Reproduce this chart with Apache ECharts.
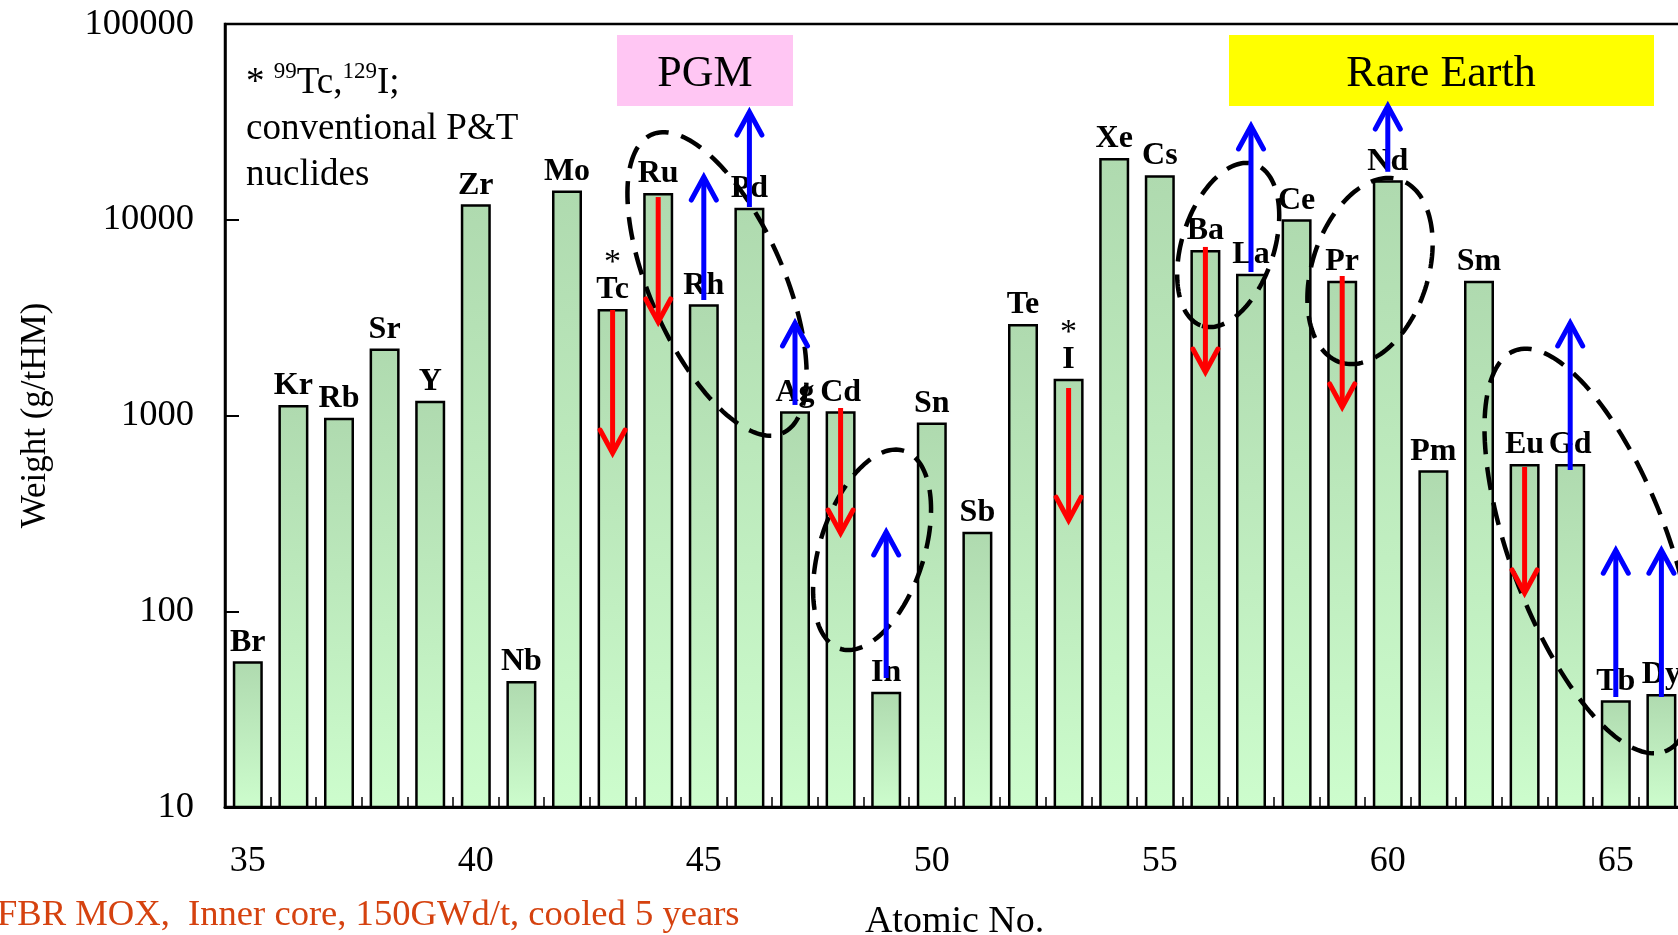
<!DOCTYPE html>
<html>
<head>
<meta charset="utf-8">
<script src="https://cdn.jsdelivr.net/npm/echarts@6.0.0/dist/echarts.min.js"></script>
<style>
  html, body { margin: 0; padding: 0; background: #ffffff; }
  #chart { width: 1678px; height: 935px; }
</style>
</head>
<body>
<div id="chart"></div>
<script>
// Fission-product inventory by element (g per tonne of heavy metal)
const atomicNumbers = ['35', '36', '37', '38', '39', '40', '41', '42', '43', '44', '45',
  '46', '47', '48', '49', '50', '51', '52', '53', '54', '55', '56', '57', '58', '59', '60',
  '61', '62', '63', '64', '65', '66'];
const elements = ['Br', 'Kr', 'Rb', 'Sr', 'Y', 'Zr', 'Nb', 'Mo', 'Tc', 'Ru', 'Rh',
  'Pd', 'Ag', 'Cd', 'In', 'Sn', 'Sb', 'Te', 'I', 'Xe', 'Cs', 'Ba', 'La', 'Ce', 'Pr', 'Nd',
  'Pm', 'Sm', 'Eu', 'Gd', 'Tb', 'Dy'];
const weights = [55.5, 1130, 975, 2200, 1190, 12000, 44, 14100, 3500, 13700, 3700,
  11500, 1050, 1050, 38.8, 920, 255, 2930, 1540, 20700, 16900, 7000, 5300, 10050, 4880, 15900,
  525, 4880, 565, 565, 35.1, 37.8];

// conventional P&T nuclides (marked with *)
const ptNuclides = ['Tc', 'I'];

// transmutation arrows: element, start weight, end weight
const decreaseArrows = [
  ['Tc', 3460, 643], ['Ru', 13060, 3005], ['Cd', 1092, 251], ['I', 1381, 292],
  ['Ba', 7262, 1668], ['Pr', 5165, 1106], ['Eu', 546, 124]
];
const increaseArrows = [
  ['Rh', 3890, 16530], ['Pd', 11620, 35500], ['Ag', 1132, 2970], ['In', 45.6, 254],
  ['La', 5410, 30130], ['Nd', 17580, 38100], ['Gd', 527, 2970], ['Tb', 36.5, 205],
  ['Dy', 36.5, 205]
];

const yTickLabels = ['10', '100', '1000', '10000', '100000'];

// dashed group outlines: centre (atomic no., weight), semi-axes in px, tilt of the long axis
const groupOutlines = [
  { center: 45.29, weight: 4700, major: 163, minor: 67, tilt: 23.6 },
  { center: 48.69, weight: 206, major: 104, minor: 52, tilt: -18 },
  { center: 56.5, weight: 7430, major: 85, minor: 46, tilt: -18 },
  { center: 59.61, weight: 5470, major: 96, minor: 58, tilt: -18 },
  { center: 64.43, weight: 203, major: 214, minor: 79, tilt: 20.5 }
];

const SERIF = "'Liberation Serif', 'Times New Roman', serif";
const firstZ = Number(atomicNumbers[0]);

function arrowData(list) {
  return list.map(([el, from, to]) => [elements.indexOf(el), from, to]);
}

function makeArrowRenderer(color) {
  return function (params, api) {
    const idx = api.value(0);
    const p0 = api.coord([idx, api.value(1)]);
    const p1 = api.coord([idx, api.value(2)]);
    const dir = p1[1] > p0[1] ? 1 : -1;
    const headBack = 23, headHalf = 12.5;
    return {
      type: 'group',
      children: [
        {
          type: 'line',
          shape: { x1: p0[0], y1: p0[1], x2: p1[0], y2: p1[1] },
          style: { stroke: color, lineWidth: 5, lineCap: 'butt' }
        },
        {
          type: 'polyline',
          shape: { points: [
            [p1[0] - headHalf, p1[1] - dir * headBack],
            [p1[0], p1[1]],
            [p1[0] + headHalf, p1[1] - dir * headBack]
          ] },
          style: { stroke: color, fill: null, lineWidth: 5, lineCap: 'round', lineJoin: 'miter' }
        }
      ]
    };
  };
}

function renderOutline(params, api) {
  const o = groupOutlines[params.dataIndex];
  const zi = o.center - firstZ;
  const i0 = Math.floor(zi);
  const base = api.coord([i0, o.weight]);
  const band = api.size([1, 0])[0];
  const cx = base[0] + (zi - i0) * band;
  const cy = base[1];
  const t = o.tilt * Math.PI / 180;
  const ux = Math.sin(t), uy = Math.cos(t);
  const vx = Math.cos(t), vy = -Math.sin(t);
  const pts = [];
  const n = 160;
  for (let k = 0; k < n; k++) {
    const s = (k / n) * Math.PI * 2;
    const ca = o.major * Math.cos(s), sb = o.minor * Math.sin(s);
    pts.push([cx + ca * ux + sb * vx, cy + ca * uy + sb * vy]);
  }
  return {
    type: 'polygon',
    shape: { points: pts },
    style: { fill: null, stroke: '#000000', lineWidth: 4.5, lineDash: [23, 13] }
  };
}

const chart = echarts.init(document.getElementById('chart'), null, { renderer: 'canvas' });

const option = {
  backgroundColor: '#ffffff',
  animation: false,
  grid: {
    left: 225, top: 24, width: 1459.2, height: 783,
    containLabel: false,
    outerBoundsMode: 'none',
    show: true, borderColor: '#000000', borderWidth: 2.5, backgroundColor: 'transparent'
  },
  xAxis: {
    type: 'category',
    data: atomicNumbers,
    boundaryGap: true,
    name: 'Atomic No.',
    nameLocation: 'middle',
    nameGap: 96,
    nameTextStyle: { fontFamily: SERIF, fontSize: 38, color: '#000000' },
    axisLine: { show: true, lineStyle: { color: '#000000', width: 3 } },
    axisTick: { show: true, inside: true, interval: 0, length: 10, lineStyle: { color: '#000000', width: 1.5 } },
    axisLabel: { interval: 4, margin: 37, fontFamily: SERIF, fontSize: 36, color: '#000000' },
    splitLine: { show: false }
  },
  yAxis: {
    type: 'log',
    logBase: 10,
    min: 10,
    max: 100000,
    name: 'Weight (g/tHM)',
    nameLocation: 'middle',
    nameRotate: 90,
    nameGap: 172,
    nameTextStyle: { fontFamily: SERIF, fontSize: 35, color: '#000000' },
    axisLine: { show: true, lineStyle: { color: '#000000', width: 2.5 } },
    axisTick: { show: true, inside: true, length: 14, lineStyle: { color: '#000000', width: 2 } },
    minorTick: { show: false },
    axisLabel: {
      margin: 31, fontFamily: SERIF, fontSize: 36.5, color: '#000000', padding: [9, 0, 0, 0],
      formatter: v => yTickLabels[Math.round(Math.log10(v)) - 1]
    },
    splitLine: { show: false }
  },
  series: [
    {
      name: 'Weight',
      type: 'bar',
      data: weights,
      barWidth: 30,
      z: 2,
      itemStyle: {
        color: new echarts.graphic.LinearGradient(0, 0, 0, 1, [
          { offset: 0, color: '#afdaaf' },
          { offset: 1, color: '#cdfdcd' }
        ]),
        borderColor: '#000000',
        borderWidth: 2.5
      },
      label: {
        show: true,
        position: 'top',
        distance: 3,
        formatter: p => {
          const el = elements[p.dataIndex];
          return ptNuclides.includes(el) ? '{s|*}\n{e|' + el + '}' : '{e|' + el + '}';
        },
        rich: {
          s: { fontFamily: SERIF, fontSize: 34, fontWeight: 'normal', color: '#000000', lineHeight: 22 },
          e: { fontFamily: SERIF, fontSize: 32, fontWeight: 'bold', color: '#000000', lineHeight: 32 }
        }
      }
    },
    {
      name: 'Group outline',
      type: 'custom',
      z: 4,
      silent: true,
      data: groupOutlines.map(o => [Math.floor(o.center) - firstZ, o.weight]),
      encode: { x: 0, y: 1 },
      renderItem: renderOutline
    },
    {
      name: 'Decrease',
      type: 'custom',
      z: 5,
      silent: true,
      data: arrowData(decreaseArrows),
      encode: { x: 0, y: [1, 2] },
      renderItem: makeArrowRenderer('#ff0000')
    },
    {
      name: 'Increase',
      type: 'custom',
      z: 5,
      silent: true,
      data: arrowData(increaseArrows),
      encode: { x: 0, y: [1, 2] },
      renderItem: makeArrowRenderer('#0000ff')
    }
  ],
  graphic: [
    {
      type: 'text',
      left: 246, top: 60,
      z: 10,
      style: {
        text: '{a|* }{u|99}{a|Tc,}{u|129}{a|I;}\n{a|conventional P&T}\n{a|nuclides}',
        rich: {
          a: { fontFamily: SERIF, fontSize: 37, color: '#000000', lineHeight: 46 },
          u: { fontFamily: SERIF, fontSize: 23, color: '#000000', lineHeight: 30, verticalAlign: 'top' }
        }
      }
    },
    {
      type: 'group',
      z: 10,
      children: [
        { type: 'rect', shape: { x: 617, y: 35, width: 176, height: 71 }, style: { fill: '#ffc6f3' } },
        {
          type: 'text', x: 705, y: 74.5,
          style: { text: 'PGM', font: '44px ' + SERIF, fill: '#000000',
            align: 'center', verticalAlign: 'middle', textAlign: 'center', textVerticalAlign: 'middle' }
        },
        { type: 'rect', shape: { x: 1229, y: 35, width: 425, height: 71 }, style: { fill: '#ffff00' } },
        {
          type: 'text', x: 1441, y: 74.5,
          style: { text: 'Rare Earth', font: '44px ' + SERIF, fill: '#000000',
            align: 'center', verticalAlign: 'middle', textAlign: 'center', textVerticalAlign: 'middle' }
        },
        {
          type: 'text', x: -3, y: 915,
          style: { text: 'FBR MOX,  Inner core, 150GWd/t, cooled 5 years', font: '36.6px ' + SERIF,
            fill: '#d5420f', align: 'left', verticalAlign: 'middle', textAlign: 'left', textVerticalAlign: 'middle' }
        }
      ]
    }
  ]
};

chart.setOption(option);
</script>
</body>
</html>
